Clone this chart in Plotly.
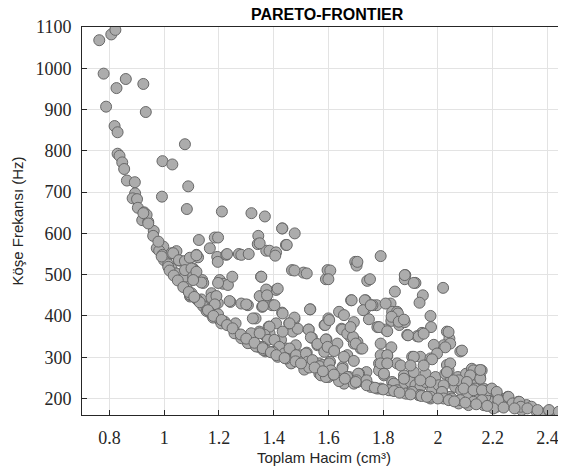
import plotly.graph_objects as go

# Pareto points: total volume (cm3) and corner frequency (Hz)
hacim = [
    0.763, 0.807, 0.822, 0.779, 0.826, 0.860, 0.924, 0.788, 0.933, 0.819,
    0.830, 1.076, 0.830, 0.837, 0.847, 0.854, 0.994, 1.030, 0.864, 0.893,
    1.088, 0.894, 0.885, 0.901, 0.992, 0.904, 0.927, 0.920, 0.942, 0.936,
    1.083, 1.211, 1.319, 1.368, 1.432, 1.477, 1.344, 0.962, 0.960, 1.127,
    1.185, 1.197, 0.973, 0.997, 0.982, 0.994, 1.009, 1.000, 1.015, 1.027,
    1.045, 1.027, 1.057, 1.043, 1.057, 1.076, 1.082, 1.100, 1.095, 1.106,
    1.112, 1.124, 1.118, 1.139, 1.143, 1.136, 1.145, 1.155, 1.164, 1.179,
    1.191, 1.203, 1.209, 1.173, 1.188, 1.196, 1.167, 1.194, 1.196, 1.203,
    1.215, 1.233, 1.249, 1.227, 1.273, 1.282, 1.309, 1.242, 1.261, 1.263,
    1.288, 1.306, 1.324, 1.282, 1.306, 1.334, 1.346, 1.366, 1.370, 1.354,
    1.358, 1.354, 1.373, 1.376, 1.394, 1.382, 1.385, 1.409, 1.409, 1.431,
    1.427, 1.439, 1.457, 1.467, 1.470, 1.476, 1.445, 1.467, 1.509, 1.591,
    1.597, 1.698, 1.703, 1.791, 1.742, 1.881, 1.879, 1.918, 2.019, 1.843,
    1.945, 1.933, 1.683, 1.736, 1.734, 1.776, 1.827, 1.833, 1.851, 1.639,
    1.657, 1.600, 1.586, 1.534, 1.748, 1.693, 1.830, 1.859, 1.879, 1.973,
    1.975, 1.942, 1.924, 1.888, 1.779, 1.809, 1.648, 1.675, 1.457, 1.488,
    1.528, 1.540, 1.560, 1.593, 1.633, 1.681, 1.693, 1.718, 1.706, 1.791,
    1.830, 2.033, 2.042, 2.021, 1.985, 2.082, 1.906, 1.936, 1.973, 1.445,
    1.481, 1.470, 1.433, 1.418, 1.503, 1.512, 1.530, 1.521, 1.567, 1.579,
    1.606, 1.600, 1.567, 1.652, 1.639, 1.676, 1.657, 1.706, 1.730, 1.739,
    1.712, 1.755, 1.779, 1.785, 1.785, 1.803, 1.815, 1.797, 1.827, 1.839,
    1.833, 1.851, 1.876, 1.870, 1.888, 1.900, 1.912, 1.918, 1.936, 1.930,
    1.955, 1.955, 1.979, 1.973, 1.991, 2.003, 2.015, 2.027, 2.033, 2.039,
    2.048, 2.045, 2.063, 2.073, 2.076, 2.085, 2.094, 2.103, 2.106, 2.124,
    2.130, 2.136, 2.148, 2.154, 2.161, 2.167, 2.173, 2.179, 2.191, 2.197,
    2.209, 2.221, 2.215, 2.255, 2.270, 2.294, 2.306, 2.324, 2.342, 2.361,
    2.391, 2.409, 2.439, 2.457, 1.373, 1.403, 1.433, 1.476, 1.533, 1.685,
    1.733, 1.727, 1.761, 1.588, 1.603, 1.528, 1.536, 1.560, 1.591, 1.651,
    1.669, 1.690, 1.681, 1.700, 1.724, 1.669, 1.657, 1.693, 1.585, 1.597,
    1.621, 1.348, 1.385, 1.367, 1.379, 1.360, 1.373, 1.403, 1.421, 1.433,
    1.458, 1.397, 1.415, 1.439, 1.458, 1.470, 1.464, 1.445, 1.482, 1.506,
    1.518, 1.524, 1.512, 1.530, 1.542, 1.567, 1.573, 1.591, 1.603, 1.609,
    1.621, 1.639, 1.651, 1.669, 1.693, 1.709, 1.703, 1.739, 0.924, 0.942,
    0.979, 0.991, 1.015, 1.033, 1.054, 1.076, 1.094, 1.118, 1.076, 1.100,
    1.106, 1.118, 1.136, 1.094, 1.106, 1.230, 1.342, 1.373, 1.197, 1.355,
    1.094, 1.136, 1.142, 1.155, 1.173, 1.191, 1.185, 1.167, 1.179, 1.197,
    1.221, 1.239, 1.257, 1.300, 1.282, 1.306, 1.324, 1.318, 1.336, 1.349,
    1.361, 1.349, 1.361, 1.854, 1.831, 1.857, 1.876, 1.785, 1.815, 1.891,
    1.930, 1.948, 2.039, 2.045, 2.027, 2.088, 1.997, 1.979, 1.912, 1.791,
    1.815, 1.791, 1.815, 1.803, 1.864, 1.900, 1.948, 2.045, 2.033, 2.130,
    2.160, 2.118, 2.155, 2.076, 2.106, 2.057, 2.021, 1.973, 1.936, 1.876,
    1.839, 1.791, 1.821, 1.851, 1.882, 1.906, 1.936, 1.973, 2.015, 2.021,
    2.051, 2.082, 2.112, 2.142, 2.173, 2.167, 2.185, 2.136, 2.094, 2.155,
    2.130, 2.130, 2.161, 2.161, 2.197, 2.215, 2.215, 2.221, 2.203, 2.258,
    2.273, 2.297, 2.303, 2.327, 2.364, 2.406, 2.442, 2.461, 1.879, 1.912,
    1.755, 1.809, 1.431, 1.448, 1.385, 1.409, 1.406, 1.476, 1.521, 1.607,
    1.600, 1.706, 1.752, 1.349, 1.373, 1.376, 1.415, 1.120, 1.130, 1.160,
    1.180, 1.210, 1.230, 1.250, 1.280, 1.300, 1.330, 1.360, 1.390, 1.410,
    1.440, 1.480, 1.500, 1.550, 1.580, 1.620, 1.660, 1.700, 1.740, 1.770,
    1.800, 1.840, 1.860, 1.900, 1.940, 1.960, 2.000, 2.040, 2.060, 2.100,
    2.140, 2.180, 2.240, 2.280, 1.020, 1.035, 1.050, 1.070, 1.090, 1.110,
]

frekans = [
    1068, 1082, 1093, 987, 952, 974, 962, 907, 894, 860,
    845, 816, 793, 788, 772, 756, 775, 767, 728, 724,
    714, 697, 685, 683, 689, 662, 651, 632, 628, 645,
    659, 653, 649, 641, 612, 600, 594, 606, 594, 584,
    590, 590, 564, 568, 558, 548, 540, 535, 525, 515,
    557, 552, 534, 503, 487, 495, 467, 455, 447, 515,
    510, 542, 548, 487, 480, 438, 426, 432, 418, 410,
    402, 390, 382, 455, 447, 431, 564, 543, 531, 487,
    478, 475, 495, 548, 550, 548, 550, 434, 382, 358,
    350, 337, 333, 430, 426, 394, 325, 318, 314, 495,
    422, 448, 451, 462, 426, 374, 358, 463, 382, 408,
    342, 301, 293, 287, 362, 392, 572, 511, 505, 489,
    511, 531, 522, 545, 485, 499, 489, 480, 468, 459,
    450, 432, 438, 438, 416, 426, 430, 410, 410, 410,
    402, 394, 378, 416, 392, 385, 388, 378, 385, 400,
    373, 359, 351, 354, 373, 367, 369, 357, 382, 369,
    367, 347, 329, 343, 333, 349, 333, 321, 337, 333,
    324, 362, 345, 329, 330, 314, 301, 301, 297, 321,
    329, 309, 305, 317, 305, 293, 293, 311, 285, 281,
    289, 252, 260, 277, 260, 252, 236, 240, 242, 264,
    260, 228, 224, 285, 268, 256, 303, 293, 220, 228,
    240, 285, 256, 228, 212, 240, 264, 232, 228, 208,
    240, 260, 220, 200, 252, 232, 216, 260, 281, 268,
    244, 204, 228, 252, 188, 220, 240, 260, 204, 272,
    232, 192, 268, 252, 212, 224, 184, 200, 220, 192,
    216, 204, 180, 204, 188, 192, 172, 184, 180, 168,
    164, 168, 164, 162, 446, 426, 406, 396, 416, 438,
    438, 414, 426, 378, 390, 367, 348, 332, 343, 367,
    357, 349, 373, 333, 321, 305, 301, 291, 313, 325,
    315, 362, 374, 354, 342, 325, 317, 342, 325, 362,
    382, 313, 301, 309, 321, 293, 285, 297, 305, 289,
    309, 289, 270, 275, 293, 278, 256, 252, 285, 268,
    256, 242, 272, 252, 236, 260, 244, 244, 649, 624,
    580, 544, 519, 552, 535, 533, 541, 547, 511, 515,
    495, 507, 481, 451, 487, 550, 574, 558, 480, 495,
    452, 440, 424, 412, 444, 448, 428, 408, 396, 404,
    386, 436, 358, 428, 346, 334, 394, 358, 326, 358,
    318, 448, 424, 406, 398, 386, 391, 373, 363, 353,
    350, 357, 361, 333, 324, 316, 309, 295, 301, 305,
    305, 285, 285, 260, 280, 280, 280, 285, 264, 268,
    268, 256, 248, 244, 240, 244, 232, 240, 244, 248,
    236, 224, 220, 220, 212, 216, 208, 204, 216, 200,
    200, 196, 184, 196, 204, 184, 220, 224, 224, 269,
    220, 192, 220, 196, 224, 216, 184, 196, 176, 204,
    188, 192, 180, 176, 172, 172, 168, 164, 499, 480,
    426, 430, 612, 572, 558, 554, 546, 510, 503, 510,
    489, 531, 489, 576, 464, 450, 466, 440, 433, 414,
    400, 390, 378, 370, 355, 345, 335, 322, 312, 305,
    298, 290, 285, 275, 266, 258, 248, 240, 232, 226,
    222, 218, 214, 210, 206, 204, 200, 196, 193, 190,
    186, 182, 178, 176, 510, 498, 486, 470, 458, 446,
]

x_ticks = [0.8, 1, 1.2, 1.4, 1.6, 1.8, 2, 2.2, 2.4]
y_ticks = [200, 300, 400, 500, 600, 700, 800, 900, 1000, 1100]

fig = go.Figure()
fig.add_trace(go.Scatter(
    x=hacim, y=frekans, mode="markers",
    marker=dict(size=11, color="#acacac", line=dict(color="#686868", width=1)),
    showlegend=False,
))

tick_font = dict(family="Liberation Serif", size=18, color="#262626")
axis_common = dict(
    showline=True, linecolor="#262626", linewidth=1,
    ticks="inside", ticklen=5, tickcolor="#262626",
    showgrid=True, gridcolor="#e3e3e3", gridwidth=1,
    zeroline=False, tickfont=tick_font, ticklabelstandoff=6,
)

fig.update_xaxes(
    range=[0.7, 2.468], tickvals=x_ticks, ticktext=[str(v) for v in x_ticks],
    mirror=True,
    title=dict(text="Toplam Hacim (cm³)", standoff=5,
               font=dict(family="Liberation Sans", size=15, color="#262626")),
    **axis_common,
)
fig.update_yaxes(
    range=[160, 1100], tickvals=y_ticks,
    title=dict(text="Köşe Frekansı (Hz)", standoff=8,
               font=dict(family="Liberation Sans", size=15, color="#262626")),
    **axis_common,
)

# the page puts the figure 8px in from the top-left corner, so the figure is
# made 8px smaller and the margins shifted to keep the plot where it belongs
fig.update_layout(
    width=558, height=462,
    margin=dict(l=74, r=0, t=19, b=55),
    font=dict(family="Liberation Serif", color="#262626"),
    paper_bgcolor="white", plot_bgcolor="white",
    title=dict(text="<b>PARETO-FRONTIER</b>", x=0.572, xanchor="center",
               y=0.998, yanchor="top", pad=dict(t=0),
               font=dict(family="Liberation Sans", size=16, color="black")),
)

fig.write_html("out.html")
